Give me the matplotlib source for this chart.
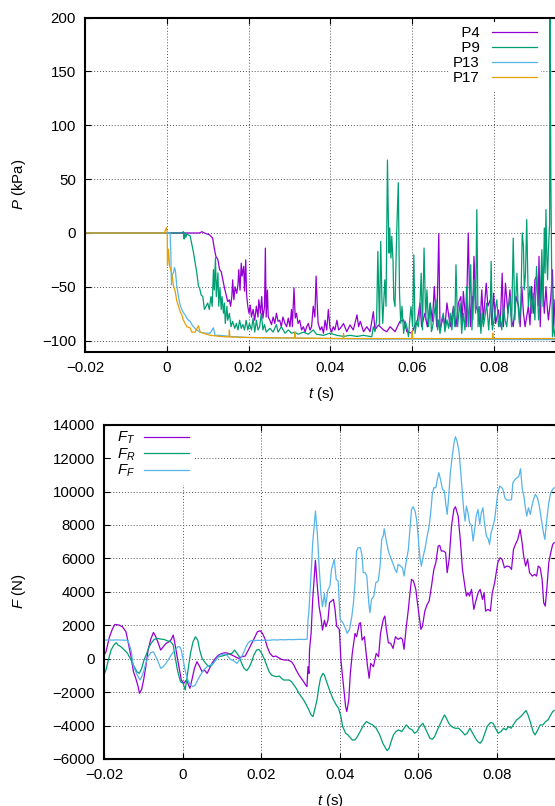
import numpy as np
import matplotlib
matplotlib.use("Agg")
import matplotlib.pyplot as plt
from matplotlib.ticker import FuncFormatter

# ---------------- data (time in ms) ----------------
# top panel: pressures (kPa)
t_p4 = [-20, 8.0, 8.6, 9.2, 9.8, 10.4, 11.2, 11.6, 12.0, 12.5, 12.9, 13.3, 13.7, 14.1, 14.5, 14.9,
        15.3, 15.6, 15.9, 16.1, 16.4, 16.7, 17.1, 17.4, 17.6, 17.9, 18.2, 18.4, 18.8, 19.0, 19.3,
        19.5, 19.8, 20.1, 20.4, 20.7, 21.1, 21.5, 21.9, 22.3, 22.5, 22.9, 23.2, 23.5, 23.9, 24.1,
        24.3, 24.6, 24.8, 25.2, 25.6, 26.0, 26.4, 26.8, 27.2, 27.6, 28.0, 28.4, 28.9, 29.3, 29.7,
        30.1, 30.5, 30.7, 31.1, 31.4, 31.7, 32.1, 32.5, 32.95, 33.4, 33.8, 34.2, 34.6, 35.0, 35.4,
        35.8, 36.2, 36.5, 36.8, 37.0, 37.5, 37.9, 38.3, 38.7, 39.1, 39.5, 39.9, 40.3, 40.7, 41.1,
        41.6, 42.0, 42.4, 43.2, 44.0, 44.8, 45.6, 46.5, 46.9, 47.3, 48.1, 48.9, 49.7, 50.5, 50.9,
        51.75, 52.97, 53.8, 54.6, 55.8, 57.0, 57.9, 58.7, 59.9, 60.7, 61.3, 61.9, 62.3, 63.1, 63.7,
        64.4, 64.96, 65.4, 66.0, 66.5, 66.8, 67.6, 68.0, 68.5, 69.3, 70.1, 70.7, 71.3, 71.9, 72.2,
        72.5, 73.2, 73.7, 74.2, 74.6, 74.8, 75.1, 75.6, 76.2, 76.6, 77.0, 77.4, 78.1, 78.5, 79.1,
        79.5, 79.9, 80.4, 81.1, 81.5, 82.0, 82.3, 82.8, 83.4, 83.9, 84.3, 84.7, 85.4, 86.0, 86.4,
        86.8, 87.2, 87.6, 88.4, 88.8, 89.2, 89.6, 90.0, 90.4, 90.8, 91.0, 91.3, 91.7, 92.1, 92.3,
        92.7, 93.0, 93.3, 93.9, 94.3, 94.6, 94.9]
p4 = [0, 0, 1.2, 0, -0.9, -1.6, -4.7, -14, -21.7, -24.8, -34, -35.7, -43.5, -51, -57.5, -63.7,
      -62, -68, -59, -43.5, -62, -50, -56, -48, -34, -53, -28, -40, -31, -54, -25,
      -57, -68, -74.5, -67, -78, -71, -81, -68, -78, -62, -74.5, -59, -79, -68, -14,
      -78, -53, -78, -81, -85, -78, -84, -74.5, -82, -81, -87, -78, -84, -87, -79,
      -87, -71, -87, -51, -79, -74.5, -84, -81, -90, -87, -92, -87, -84, -90, -87,
      -68, -78, -40, -68, -84, -90, -87, -93, -81, -90, -71, -88.5, -92, -87, -90,
      -81, -90, -88.5, -84, -91.6, -85.4, -90, -76, -87, -82, -91.6, -87, -91.6, -73, -90,
      -85.4, -90, -91.6, -87, -91.6, -82, -80.7, -91.6, -93, -85.4, -80.7, -65, -87, -74.5, -87,
      -65, -82, -49.7, -87, -0.6, -90, -77.6, -87, -65, -87, -68, -87, -65, -59, -85.4,
      -54.3, -87, 0, -87, -59, -80.7, -21.7, -68, -74.5, -87, -52.8, -80.7, -46.6, -68, -62,
      -85.4, -56, -84, -71.4, -87, -37.3, -87, -46.6, -74.5, -52.8, -80.7, -87, -59, -68, -87,
      -49.7, -74.5, -87, -68, -85.4, -49.7, -74.5, -43.5, -40.4, -68, -21.7, -87, -31, -62, -74.5,
      -49.7, -68, -80.7, -59, -34.2, -87, -62]

t_p9 = [-20, 3.6, 4.07, 4.24, 4.4, 4.65, 4.89, 5.3, 5.7, 6.11, 6.52, 6.93, 7.33, 7.74, 8.0, 8.4,
        8.8, 9.2, 9.6, 10.0, 10.4, 10.8, 11.1, 11.4, 11.6, 11.9, 12.1, 12.5, 12.7, 13.0, 13.3,
        13.5, 13.85, 14.1, 14.3, 14.7, 14.9, 15.3, 15.7, 16.1, 16.6, 17.0, 17.4, 17.8, 18.2, 18.6,
        19.0, 19.4, 19.8, 20.2, 20.7, 21.1, 21.5, 21.9, 22.3, 22.7, 23.1, 23.5, 23.9, 24.3, 25.2,
        26.0, 26.8, 27.2, 28.0, 28.9, 29.7, 30.5, 31.3, 32.1, 33.4, 34.6, 35.8, 36.6, 38.3, 39.9,
        41.6, 43.2, 44.8, 46.5, 48.1, 49.7, 50.1, 50.5, 50.9, 51.3, 51.6, 51.8, 52.0, 52.3, 52.6,
        52.8, 53.3, 53.6, 53.95, 54.3, 54.5, 54.8, 55.0, 55.3, 55.5, 55.8, 56.2, 56.6, 56.9, 57.2,
        57.5, 57.9, 58.3, 58.7, 59.1, 59.4, 59.7, 60.1, 60.4, 60.7, 61.1, 61.5, 61.8, 62.2, 62.5,
        62.9, 63.3, 63.6, 64.0, 64.4, 64.7, 65.0, 65.4, 65.8, 66.2, 66.4, 66.8, 67.2, 67.6, 68.0,
        68.5, 68.9, 69.3, 69.7, 70.1, 70.4, 70.7, 71.1, 71.4, 71.7, 72.1, 72.5, 72.9, 73.3, 73.7,
        74.0, 74.3, 74.6, 75.1, 75.5, 75.8, 76.1, 76.4, 76.8, 77.1, 77.4, 77.8, 78.2, 78.7, 79.1,
        79.3, 79.6, 80.0, 80.4, 80.7, 81.1, 81.5, 81.9, 82.3, 82.7, 83.1, 83.5, 83.9, 84.3, 84.7,
        85.1, 85.6, 85.9, 86.2, 86.6, 86.9, 87.2, 87.4, 87.7, 88.0, 88.4, 88.8, 89.2, 89.6, 90.0,
        90.4, 90.9, 91.3, 91.7, 92.0, 92.3, 92.5, 92.7, 92.9, 93.1, 93.3, 93.6, 93.7, 93.9, 94.1,
        94.3, 94.6, 94.9]
p9 = [0, 0, 1.2, -5.6, 0, -4, -0.9, -1.9, -2.5, -10.3, -18.1, -27.5, -36.9, -49.4, -51, -57.5,
      -59, -71, -68, -65, -71, -59, -68, -34, -53, -23, -59, -37, -68, -51, -71,
      -59, -74.5, -65, -84, -68, -81, -74.5, -87, -82, -88.5, -84, -90, -81, -88.5, -85,
      -90, -81, -90, -84, -90, -79, -92, -81, -90, -87, -74.5, -90, -85, -92, -88.5,
      -92, -85, -92, -87, -93, -90, -93, -92, -94, -92, -94, -90, -94, -95, -93,
      -95, -96, -95, -96, -95, -96, -96.3, -87, -91.6, -80.7, -17.1, -52.8, -87, -7.8, -62,
      -83.9, -43.5, -68, 67.7, -18.6, 4.7, -23.3, -3.1, -24.8, -62, -68.3, 0, 46.6, -55.9, -83.9,
      -68, -93.2, -82, -87, -96.3, -80.7, -68.3, -87, -20.2, -93.2, -82, -87, -74.5, -37.3, -90,
      -14, -80.7, -52.8, -87, -65.2, -91.6, -87, -74.5, -62, -90, -80.7, -93.2, -80.7, -74.5, -91.6,
      -80.7, -88.5, -74.5, -90, -68.3, -87, -29.5, -87, -74.5, -65.2, -93.2, -74.5, -90, -49.7, -87,
      -62, -29.5, -90, -43.5, -74.5, 21.7, -87, -68.3, -93.2, -74.5, -87, -77.6, -65.2, -90, -68.3,
      -26.4, -90, -80.7, -68.3, -62, -87, -77.6, -90, -68.3, -80.7, -87, -71.4, -59, -87, -4.7,
      -80.7, -37.3, -68.3, -83.9, -62, 0, -12.4, -52.8, -37.3, 12.4, -68.3, -49.7, -74.5, -55.9, -80.7,
      -31.1, -80.7, -62, -15.5, -68.3, 4.7, -37.3, 21.7, -21.7, -43.5, -15.5, 9.3, 230, 49.7, -37.3,
      -96.3, -87, -96.3]

t_p13 = [-20, 0.8, 0.98, 1.14, 1.39, 1.63, 1.87, 2.1, 2.44, 2.85, 3.26, 3.67, 4.07, 4.48, 4.89,
         5.3, 5.7, 6.1, 6.5, 7.3, 8.15, 9.4, 10.6, 11.4, 11.8, 13.0, 15.5, 19.6, 25, 30, 40, 50,
         60, 70, 80, 94.9]
p13 = [0, 0, -18, -48, -38, -37, -32, -35, -49, -59, -67, -71, -74, -76, -79,
       -81, -82, -85, -87, -90, -92, -93, -93, -88, -95, -95, -96, -97, -97.5, -97.5, -98, -98.5,
       -98.5, -98.8, -98.8, -99]

t_p17 = [-20, -0.6, -0.4, -0.1, 0.1, 0.16, 0.41, 0.65, 0.98, 1.22, 1.63, 2.04, 2.44, 2.85, 3.26,
         3.67, 4.07, 4.48, 4.89, 5.7, 6.11, 6.93, 7.74, 8.15, 8.96, 10.6, 13.85, 15.2, 15.3, 15.4,
         20.4, 31.2, 31.3, 31.4, 43.1, 43.2, 43.3, 59.9, 60.0, 60.1, 79.6, 79.7, 79.8, 94.9]
p17 = [0, 0, 2, 5, 1, -30, -15, -30, -34, -38, -49, -54, -63, -68, -73,
       -76, -81, -84, -87, -88, -92, -92, -86, -92, -93, -95, -96.3, -96.5, -90, -96.5,
       -97, -97.5, -92, -97.5, -98, -93, -98, -98, -91, -98, -98, -93, -98, -98]

# bottom panel: forces (N)
t_ft = [-20.0, -19.6, -18.7, -17.9, -17.3, -16.2, -15.4, -14.5, -13.9, -13.2, -12.6, -12.0, -11.4,
        -11.05, -10.5, -10.0, -9.45, -8.86, -8.2, -7.5, -6.9, -6.3, -5.65, -5.0, -4.3, -3.5, -2.95,
        -2.45, -2.1, -1.6, -1.0, -0.4, 0.25, 0.9, 1.3, 1.8, 2.4, 2.95, 3.6, 4.3, 4.9, 5.5, 6.2, 6.8,
        7.4, 8.3, 9.1, 10.0, 10.8, 11.65, 12.5, 13.3, 14.2, 15.0, 15.9, 16.7, 17.55, 18.4, 19.0,
        19.7, 20.3, 20.9, 21.5, 22.2, 23.0, 23.7, 24.3, 25.1, 26.0, 26.8, 27.7, 28.3, 28.9, 29.6,
        30.2, 30.8, 31.3, 31.65, 31.9, 32.15, 32.3, 32.7, 33.1, 33.8, 34.3, 34.75, 35.2, 35.6, 36.1,
        36.5, 37.0, 37.4, 38.4, 38.8, 39.2, 39.9, 40.3, 40.9, 41.5, 41.8, 42.3, 42.7, 43.2, 43.9,
        44.3, 45.0, 45.3, 45.7, 46.3, 47.0, 47.5, 47.9, 48.6, 49.3, 49.9, 50.4, 51.1, 51.5, 51.9,
        52.4, 53.0, 53.6, 54.2, 54.9, 55.5, 56.0, 56.4, 56.9, 57.5, 57.9, 58.3, 58.8, 59.4, 59.7,
        60.25, 60.7, 61.1, 61.7, 62.3, 62.8, 63.4, 64.0, 64.5, 65.1, 65.5, 65.9, 66.5, 67.0, 67.4,
        67.9, 68.5, 69.1, 69.5, 70.2, 70.8, 71.3, 71.9, 72.3, 72.7, 73.1, 73.6, 74.2, 74.7, 75.3,
        75.8, 76.4, 76.8, 77.2, 77.8, 78.4, 78.9, 79.5, 79.9, 80.3, 80.9, 81.4, 82.0, 82.6, 83.3,
        83.8, 84.3, 84.8, 85.4, 86.0, 86.5, 86.9, 87.4, 87.9, 88.4, 89.1, 89.7, 90.2, 90.6, 91.1,
        91.6, 92.0, 92.4, 92.8, 93.3, 93.8, 94.3, 94.7]
f_t = [250, 418, 1313, 1811, 2050, 2010, 1910, 1612, 915, 119, -776, -1174, -1672,
       -2070, -1830, -1274, -478, 517, 1154, 1572, 1313, 955, 517, 716, 915, 1015, 1154,
       1413, 1015, 318, -478, -1274, -1473, -1274, -1473, -1771, -1174, -577, -179, -478, -776, -677, -876, -577,
       -279, 20, 219, 318, 358, 318, 219, 119, 20, 119, 159, 517, 915, 1313, 1612,
       1672, 1512, 1214, 716, 318, 119, 159, 80, -40, -80, -80, -179, -378, -677, -975,
       -1174, -1373, -1572, -1672, -478, -876, 517, 1512, 3500, 5890, 4300, 3100, 2500, 1710, 2300,
       1910, 2300, 3350, 3550, 2951, 1954, 1755, -80, -1473, -2865, -3164, -2467, -876, 318, 1512,
       1313, 2110, 2154, 1114, 1313, -279, -1174, -279, -478, 318, 119, 1512, 2353, 2552, 1755,
       956, 915, 617, 1313, 1157, 1257, 1157, 558, 1755, 2951, 3900, 4746, 4646, 4148, 3549,
       2552, 1755, 1954, 2851, 3250, 3450, 4347, 5344, 5743, 6740, 6780, 6441, 6441, 6341, 5145,
       5943, 7936, 8933, 9093, 8534, 6939, 5344, 4347, 3749, 3948, 3749, 4148, 2951, 3450, 3948,
       4148, 3549, 3948, 2851, 2951, 2851, 3948, 4546, 5145, 5743, 6042, 5943, 5444, 5543, 5503,
       5344, 6540, 6840, 7139, 7737, 6939, 6142, 5543, 5943, 5145, 4945, 5045, 4945, 5543, 5444,
       4746, 3350, 3150, 4148, 5743, 6341, 6840, 6939]

t_fr = [-20, -19.6, -19.0, -18.3, -17.6, -17.0, -16.5, -15.8, -14.9, -14.1, -13.2, -12.4, -11.7,
        -11.1, -10.5, -9.9, -9.2, -8.6, -8.0, -7.3, -6.5, -5.65, -4.8, -4.0, -3.1, -2.45, -1.9,
        -1.3, -0.6, 0.08, 0.6, 0.9, 1.3, 1.94, 2.6, 3.2, 3.8, 4.3, 4.9, 5.5, 6.2, 6.8, 7.4, 8.3,
        9.1, 10.0, 10.8, 11.65, 12.5, 13.2, 13.8, 14.4, 15.0, 15.6, 16.3, 17.0, 17.55, 18.1, 18.8,
        19.4, 20.1, 20.7, 21.35, 22.0, 22.6, 23.2, 23.9, 24.6, 25.15, 25.7, 26.4, 27.1, 27.7, 28.3,
        28.9, 29.6, 30.2, 30.8, 31.5, 32.15, 32.7, 33.2, 33.6, 34.2, 34.7, 35.1, 35.7, 36.1, 36.5,
        37.4, 38.2, 39.1, 39.7, 40.3, 40.75, 41.5, 42.1, 42.6, 43.2, 43.9, 44.5, 45.2, 46.1, 46.8,
        47.5, 48.4, 49.3, 50.2, 51.0, 51.7, 52.1, 52.6, 53.1, 53.7, 54.3, 55.0, 55.8, 56.4, 57.0,
        57.7, 58.5, 59.1, 59.7, 60.4, 61.2, 61.8, 62.4, 63.0, 63.6, 64.2, 64.9, 65.7, 66.3, 66.7,
        67.2, 67.8, 68.5, 69.4, 70.3, 71.2, 71.9, 72.5, 73.2, 73.9, 74.6, 75.2, 75.8, 76.4, 77.0,
        77.6, 78.4, 79.1, 79.7, 80.4, 81.1, 81.8, 82.4, 83.0, 83.7, 84.5, 85.1, 85.7, 86.3, 86.9,
        87.5, 88.0, 88.7, 89.3, 89.8, 90.5, 91.1, 91.8, 92.5, 93.1, 93.8, 94.3, 94.7]
f_r = [-900, -677, -80, 517, 816, 955, 816, 716, 517, 318, -80, -478, -776,
       -876, -577, -80, 318, 716, 955, 1154, 1214, 1174, 1154, 1075, 1015, 816, 20,
       -776, -1373, -1473, -1871, -1373, -676, 318, 1015, 1313, 1114, 517, 20, -179, -378, -478, -378, -80,
       119, 159, 219, 279, 318, 517, 318, 119, -279, -577, -716, -478, -179, 219, 517,
       557, 318, 20, -378, -776, -975, -1035, -1075, -1035, -1174, -1274, -1274, -1274, -1373, -1572,
       -1771, -2070, -2269, -2468, -2766, -3065, -3363, -3463, -3065, -2468, -1672, -1174, -876, -975, -1274,
       -1871, -2368, -2766, -2965, -3460, -4060, -4460, -4560, -4700, -4860, -4860, -4660, -4360, -3960, -3760,
       -3860, -3960, -4160, -4560, -5060, -5360, -5500, -5360, -4960, -4560, -4360, -4260, -4360, -4160, -3960,
       -4160, -4260, -4460, -4360, -4060, -3860, -4160, -4460, -4760, -4820, -4660, -4260, -3860, -3560, -3360,
       -3560, -3860, -4060, -4160, -4160, -4360, -4560, -4460, -4160, -4460, -4760, -4960, -5060, -4860, -4460,
       -4060, -3820, -3860, -4160, -4460, -4360, -4160, -4260, -4060, -4160, -3860, -3660, -3560, -3420, -3260,
       -3100, -3360, -3860, -4360, -4560, -4260, -3960, -3960, -3760, -3660, -3360, -3160, -3100]

t_ff = [-20, -19.0, -18.0, -17.0, -15.5, -14.0, -13.2, -12.6, -12.0, -11.4, -10.9, -10.5, -10.0,
        -9.45, -8.86, -8.2, -7.5, -6.9, -6.3, -5.65, -5.0, -4.3, -3.5, -2.7, -1.86, -1.27, -0.76,
        -0.4, 0.08, 0.67, 1.27, 1.94, 2.6, 3.2, 3.8, 4.5, 5.3, 6.2, 7.0, 7.8, 8.7, 9.5, 10.4,
        11.2, 12.1, 12.9, 13.8, 14.4, 15.0, 15.6, 16.1, 16.7, 17.3, 18.0, 19.0, 20.0, 21.0, 22.0,
        23.0, 24.0, 25.0, 26.0, 27.0, 28.0, 29.0, 30.0, 31.0, 31.7, 31.9, 32.1, 32.7, 33.1, 33.6,
        33.8, 34.3, 34.75, 35.2, 35.6, 36.1, 36.4, 36.96, 37.5, 37.9, 38.6, 39.1, 39.6, 40.1, 40.8,
        41.4, 41.9, 42.5, 43.1, 43.5, 43.9, 44.3, 44.7, 45.3, 45.7, 46.0, 46.5, 46.9, 47.4, 47.7,
        48.1, 48.7, 49.2, 49.8, 50.3, 50.7, 51.1, 51.35, 51.8, 52.4, 53.0, 53.5, 54.1, 54.5, 54.9,
        55.5, 56.0, 56.4, 56.9, 57.5, 57.9, 58.3, 58.7, 59.2, 59.6, 60.0, 60.4, 60.8, 61.3, 61.7,
        62.3, 62.8, 63.2, 63.6, 64.0, 64.5, 64.9, 65.25, 65.7, 66.2, 66.7, 67.0, 67.4, 67.8, 68.2,
        68.7, 69.15, 69.5, 69.9, 70.4, 70.8, 71.2, 71.6, 71.95, 72.3, 72.7, 73.1, 73.6, 74.0, 74.4,
        74.8, 75.25, 75.7, 76.1, 76.5, 76.9, 77.4, 77.9, 78.2, 78.6, 79.1, 79.5, 79.9, 80.3, 80.8,
        81.3, 81.6, 82.1, 82.6, 83.3, 83.8, 84.15, 84.7, 85.2, 85.7, 86.1, 86.55, 86.95, 87.4, 87.7,
        88.1, 88.6, 89.0, 89.4, 89.9, 90.4, 90.9, 91.4, 91.95, 92.3, 92.8, 93.3, 93.8, 94.3, 94.7]
f_f = [1114, 1120, 1110, 1125, 1114, 1100, 517, -478, -776, -1075, -1274, -1075, -776,
       -279, 119, 358, 418, 119, -179, -577, -478, -279, 20, 318, 557, 716, 716,
       517, -80, -776, -1274, -1572, -1672, -1572, -1274, -975, -677, -478, -378, -279, 20, 219, 279,
       219, -40, -119, -279, -80, 119, 418, 716, 955, 1075, 1075, 1100, 1090, 1110, 1100,
       1130, 1120, 1140, 1130, 1150, 1140, 1150, 1160, 1150, 1170, 2310, 2706, 5094, 6885, 8278,
       8835, 7483, 5492, 3900, 3104, 3900, 3104, 4100, 4347, 5344, 5943, 4746, 4646, 2353, 2154,
       1854, 1515, 1755, 2552, 3350, 4546, 6441, 6640, 6640, 6142, 5145, 5145, 4945, 3350, 2752,
       3550, 3749, 4546, 4646, 5543, 7139, 7338, 7777, 7139, 6441, 6042, 5743, 5344, 5145, 5643,
       5543, 5444, 4945, 5743, 6540, 7737, 8933, 9093, 8834, 8335, 7338, 6142, 5543, 6142, 6540,
       7338, 7936, 8734, 9830, 10229, 10229, 10728, 11127, 10728, 10130, 10030, 9332, 8634, 9731, 11127,
       12124, 12921, 13280, 13021, 12423, 11326, 10130, 8933, 8235, 9133, 8734, 8135, 7936, 7039, 7737,
       8534, 8933, 8036, 8734, 9033, 8135, 7338, 7139, 6840, 7537, 7936, 8335, 9133, 9930, 10329,
       10229, 10130, 9631, 9491, 9491, 9531, 10528, 10728, 10828, 10927, 11366, 10130, 9731, 8933, 8534,
       9033, 8634, 9133, 9531, 9830, 9631, 9133, 8335, 7537, 7139, 8335, 9332, 9930, 10130, 10229]

labels_top = ["\u2007P4", "\u2007P9", "P13", "P17"]
labels_bot = [r"$F_T$", r"$F_R$", r"$F_F$"]
xticks = [-0.02, 0, 0.02, 0.04, 0.06, 0.08]
yticks_top = [-100, -50, 0, 50, 100, 150, 200]
yticks_bot = [-6000, -4000, -2000, 0, 2000, 4000, 6000, 8000, 10000, 12000, 14000]

# ---------------- style ----------------
plt.rcParams['font.family'] = ['Liberation Sans', 'DejaVu Sans']
plt.rcParams['mathtext.fontset'] = 'custom'
plt.rcParams['mathtext.rm'] = 'Liberation Sans'
plt.rcParams['mathtext.it'] = 'Liberation Sans:italic'
FS = 10.8
colors = ['#9400D3', '#009E73', '#56B4E9', '#E69F00']

W, H = 555, 806
fig = plt.figure(figsize=(W / 100, H / 100), dpi=100)

def px_axes(left, top, right, bottom):
    return fig.add_axes([left / W, 1 - bottom / H, (right - left) / W, (bottom - top) / H])

ax1 = px_axes(85, 17.5, 557.4, 351.5)
ax2 = px_axes(104.4, 424.7, 557.4, 759)

def _fmt(v, p):
    s = "%g" % round(v, 6)
    return s.replace("-", "\u2212")

fmt = FuncFormatter(_fmt)

def style(ax):
    for s in ax.spines.values():
        s.set_linewidth(1.5)
    ax.tick_params(direction='in', length=4, width=0.8, top=True, right=True,
                   labelsize=FS, pad=6.5)
    ax.grid(True, color='#555555', linestyle=(0, (1, 2)), linewidth=0.7)
    ax.set_axisbelow(True)
    ax.xaxis.set_major_formatter(fmt)
    ax.yaxis.set_major_formatter(fmt)
    ax.set_xticks(xticks)

# top panel
series_top = [(t_p4, p4), (t_p9, p9), (t_p13, p13), (t_p17, p17)]
for (tt, pp), c, lab in zip(series_top, colors, labels_top):
    ax1.plot(np.array(tt) / 1000.0, pp, color=c, lw=0.9, label=lab)
ax1.set_xlim(-0.02, 0.0955)
ax1.set_ylim(-110, 200)
ax1.set_yticks(yticks_top)
style(ax1)
ax1.set_ylabel(r"$P$ (kPa)", fontsize=FS)
ax1.set_xlabel(r"$t$ (s)", fontsize=FS)
ax1.yaxis.set_label_coords((28 - 85) / 472.4, 0.5)
ax1.xaxis.set_label_coords(0.5, -(385 - 351.5) / 334)
leg1 = ax1.legend(loc='upper right', bbox_to_anchor=(541 / W, 1 - 21.5 / H),
                  bbox_transform=fig.transFigure, markerfirst=False, frameon=True,
                  facecolor='white', edgecolor='none', framealpha=1, fancybox=False,
                  borderpad=0.3, handlelength=3.0, handletextpad=0.8, labelspacing=0.07,
                  borderaxespad=0, fontsize=FS)
leg1.set_zorder(2.2)

# bottom panel
series_bot = [(t_ft, f_t), (t_fr, f_r), (t_ff, f_f)]
for (tt, ff), c, lab in zip(series_bot, colors[:3], labels_bot):
    ax2.plot(np.array(tt) / 1000.0, ff, color=c, lw=0.9, label=lab)
ax2.set_xlim(-0.02, 0.0955)
ax2.set_ylim(-6000, 14000)
ax2.set_yticks(yticks_bot)
style(ax2)
ax2.set_ylabel(r"$F$ (N)", fontsize=FS)
ax2.set_xlabel(r"$t$ (s)", fontsize=FS)
ax2.yaxis.set_label_coords((28 - 104.4) / 453, 0.5)
ax2.xaxis.set_label_coords(0.5, -(792 - 759) / 334)
leg2 = ax2.legend(loc='upper left', bbox_to_anchor=(111 / W, 1 - 424 / H),
                  bbox_transform=fig.transFigure, markerfirst=False, frameon=True,
                  facecolor='white', edgecolor='none', framealpha=1, fancybox=False,
                  borderpad=0.4, handlelength=3.0, handletextpad=0.6, labelspacing=0.0,
                  borderaxespad=0, fontsize=FS)
leg2.set_zorder(2.2)

fig.savefig("out.png", dpi=100)
